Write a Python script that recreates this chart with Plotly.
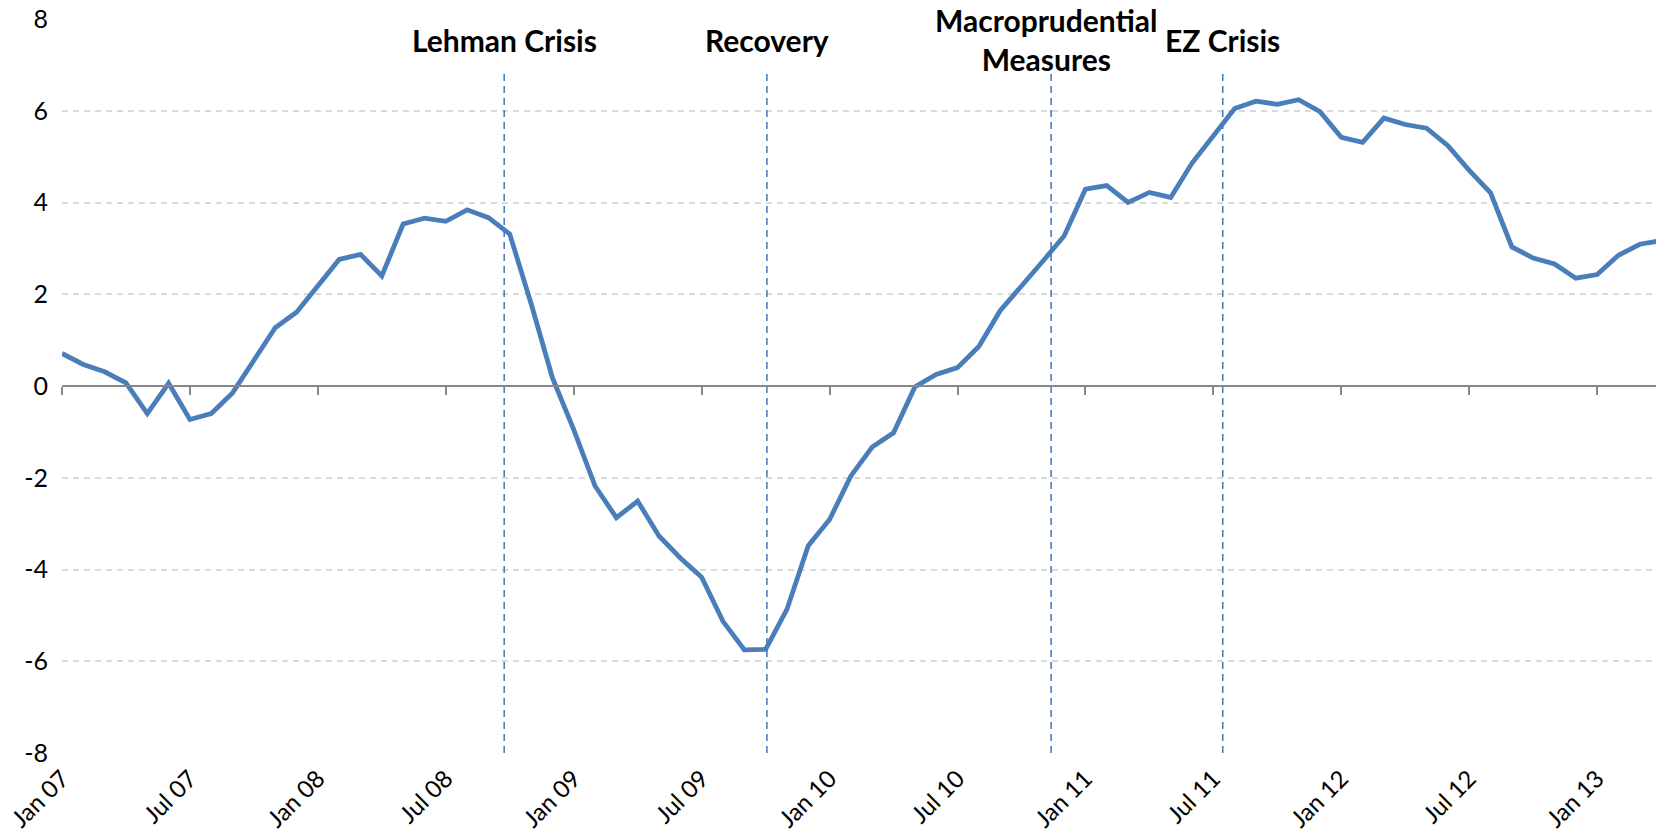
import plotly.graph_objects as go

# Monthly series, Jan 2007 .. Apr 2013 (month index 0 = Jan 07)
values = [0.71, 0.47, 0.31, 0.07, -0.60, 0.06, -0.73, -0.60, -0.15, 0.55, 1.27, 1.61,
          2.20, 2.76, 2.87, 2.40, 3.53, 3.66, 3.59, 3.84, 3.67, 3.31, 1.80, 0.18,
          -0.95, -2.18, -2.87, -2.51, -3.27, -3.75, -4.17, -5.13, -5.75, -5.74, -4.87, -3.48,
          -2.91, -1.96, -1.33, -1.02, -0.02, 0.25, 0.40, 0.86, 1.64, 2.20, 2.72, 3.27,
          4.29, 4.37, 4.00, 4.22, 4.11, 4.86, 5.45, 6.05, 6.21, 6.14, 6.24, 5.98,
          5.42, 5.31, 5.84, 5.70, 5.62, 5.24, 4.70, 4.21, 3.03, 2.79, 2.66, 2.35,
          2.43, 2.85, 3.09, 3.17]
month_index = list(range(len(values)))

tick_positions = [0, 6, 12, 18, 24, 30, 36, 42, 48, 54, 60, 66, 72]
tick_labels = ["Jan 07", "Jul 07", "Jan 08", "Jul 08", "Jan 09", "Jul 09", "Jan 10",
               "Jul 10", "Jan 11", "Jul 11", "Jan 12", "Jul 12", "Jan 13"]

event_names = ["Lehman Crisis", "Recovery", "Macroprudential<br>Measures", "EZ Crisis"]
event_x = [20.74, 33.06, 46.39, 54.44]
event_label_x = [20.74, 33.06, 46.17, 54.44]
event_top = 6.8
event_bottom = -8
label_y = 7.55

y_ticks = [-8, -6, -4, -2, 0, 2, 4, 6, 8]
y_tick_labels = ["-8", "-6", "-4", "-2", "0", "2", "4", "6", "8"]
x_range = [0, 74.76]

BLUE = "#4A7EBB"
FONT = "Lato"

fig = go.Figure()

for ex in event_x:
    fig.add_trace(go.Scatter(
        x=[ex, ex], y=[event_bottom, event_top], mode="lines",
        line=dict(color=BLUE, width=1.6, dash="7px,5px"),
        xaxis="x", yaxis="y", showlegend=False, hoverinfo="skip"))

fig.add_trace(go.Scatter(
    x=month_index, y=values, mode="lines",
    line=dict(color=BLUE, width=4.8),
    xaxis="x2", yaxis="y", showlegend=False))

for name, lx in zip(event_names, event_label_x):
    fig.add_annotation(x=lx, y=label_y, xref="x", yref="y", text=name,
                       showarrow=False, xanchor="center", yanchor="middle",
                       font=dict(family=FONT, size=30, color="black", weight=700))

fig.update_layout(
    width=1662, height=839,
    margin=dict(l=62, r=6, t=19, b=86),
    paper_bgcolor="white", plot_bgcolor="white",
    font=dict(family=FONT, size=24, color="black"),
    xaxis=dict(range=x_range, tickvals=tick_positions, ticktext=tick_labels,
               tickangle=-45, showgrid=False, showline=False, zeroline=False,
               automargin=False,
               ticks="outside", ticklen=1, tickcolor="rgba(0,0,0,0)",
               tickfont=dict(family=FONT, size=24, color="black")),
    xaxis2=dict(range=x_range, overlaying="x", anchor="free", position=0.5,
                side="bottom", tickvals=tick_positions, showticklabels=False,
                automargin=False,
                ticks="outside", ticklen=8, tickwidth=1.6, tickcolor="#878787",
                showline=True, linecolor="#878787", linewidth=2,
                showgrid=False, zeroline=False),
    yaxis=dict(range=[-8, 8], tickvals=y_ticks, ticktext=y_tick_labels, showgrid=True,
               gridcolor="#D9D9D9", griddash="6px,5px", gridwidth=1.6,
               zeroline=False, showline=False, automargin=False,
               ticks="outside", ticklen=8, tickcolor="rgba(0,0,0,0)",
               tickfont=dict(family=FONT, size=25, color="black")),
)

fig.write_html("out.html", config={"displayModeBar": False},
               post_script="document.body.style.margin='0';document.body.style.overflow='hidden';")
